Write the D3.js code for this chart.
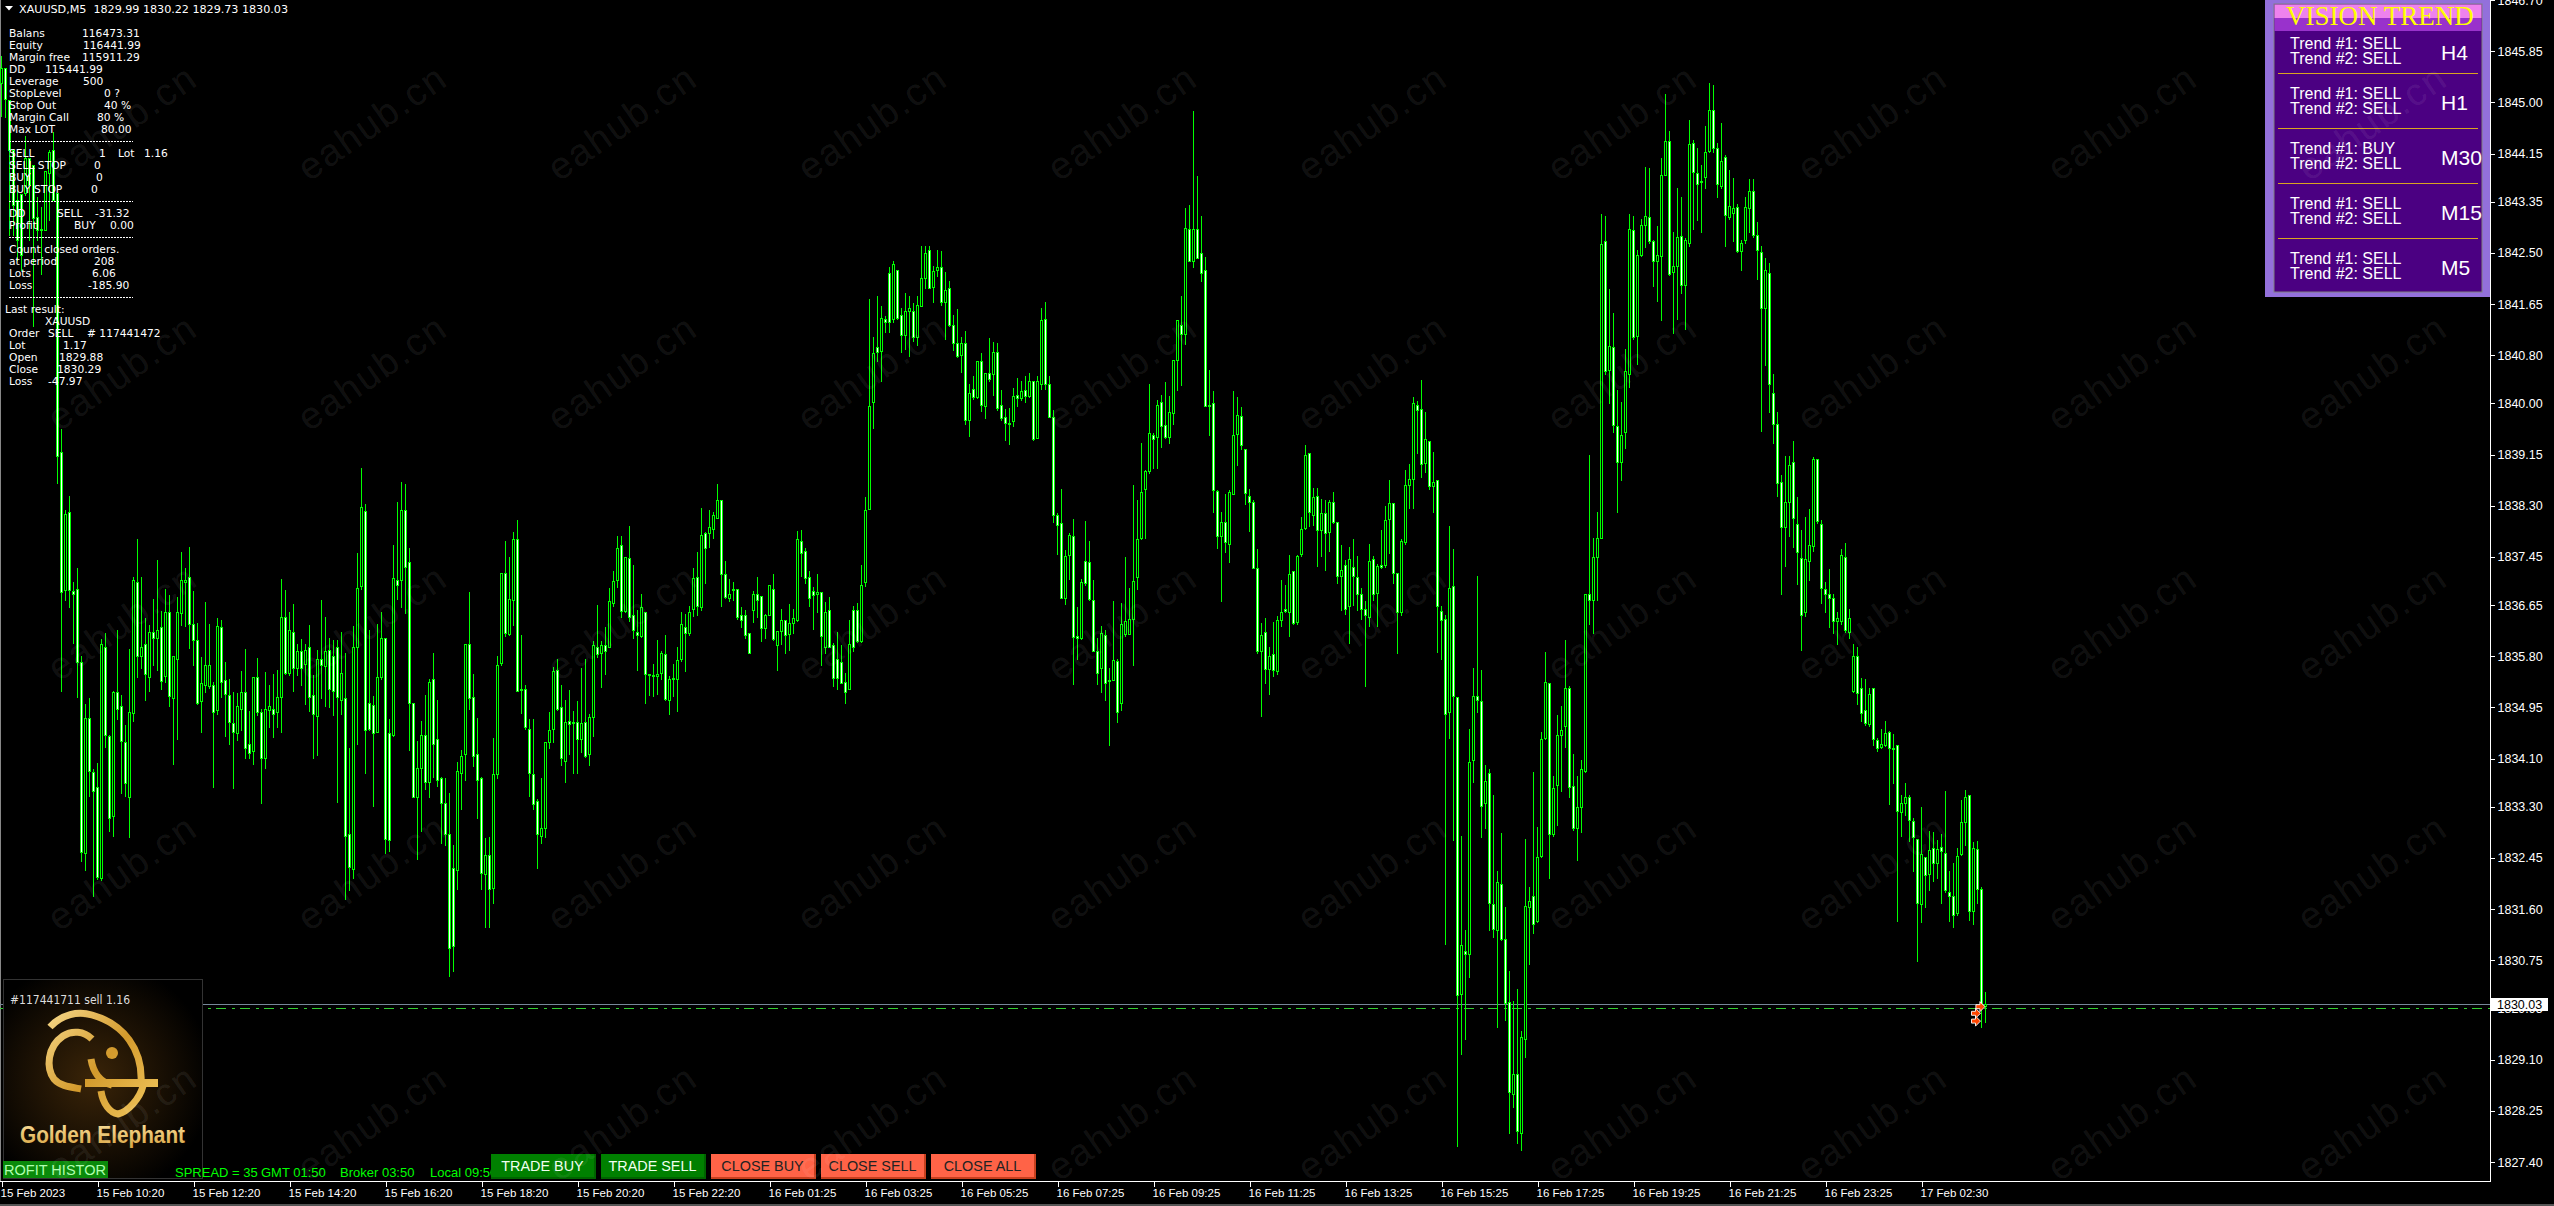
<!DOCTYPE html>
<html><head><meta charset="utf-8">
<script src="https://cdn.jsdelivr.net/npm/d3@7"></script>
<style>html,body{margin:0;padding:0;background:#000;overflow:hidden}svg{display:block}</style>
</head><body><div id="c"></div>
<script>
// Prices are stored as offsets from priceBase (XAUUSD M5, bars 5 minutes apart)
const priceBase = 1800;
const highs = [
45.77,45.57,45.04,44.21,43.54,43.48,44.44,44.08,43.96,43.43,
43.26,43.84,44.21,44.51,43.49,39.58,38.23,38.47,37.03,37.27,
35.80,35.01,35.10,33.92,34.02,36.08,36.19,34.49,35.22,36.24,
35.15,34.65,35.92,37.11,37.75,37.11,36.43,36.32,36.75,37.40,
36.56,36.92,36.81,35.81,36.78,37.53,37.27,37.62,36.89,36.35,
35.78,36.70,36.33,35.37,36.43,36.40,35.70,35.43,35.21,35.19,
35.56,35.92,34.89,35.46,35.77,34.92,35.54,35.33,35.51,35.57,
37.08,36.90,36.54,36.67,36.00,36.08,36.00,36.32,35.49,35.91,
36.73,36.45,36.10,36.07,36.07,36.21,35.86,34.28,36.30,37.52,
38.92,38.33,36.24,35.14,36.33,36.53,36.11,34.75,37.64,38.37,
38.69,38.66,37.59,35.03,34.40,34.72,35.15,35.43,35.86,35.08,
33.79,33.78,33.53,32.67,34.04,34.25,36.00,36.86,35.51,34.78,
33.79,32.78,32.79,34.45,35.81,37.19,37.72,37.45,37.87,38.06,
36.15,35.33,34.75,34.75,33.43,33.78,34.37,34.87,35.62,35.75,
35.32,35.07,35.24,34.89,35.05,35.60,35.75,34.84,36.05,36.65,
36.05,36.29,36.94,37.22,37.80,37.80,37.45,37.97,37.31,36.57,
36.84,36.54,35.51,35.67,36.07,35.89,36.16,35.48,35.67,35.95,
36.54,36.50,36.64,37.27,37.53,38.27,37.86,38.23,38.20,38.66,
38.39,37.38,37.08,37.03,36.92,36.61,36.57,36.19,36.89,37.11,
36.80,36.51,36.98,37.17,36.22,36.59,36.40,36.66,36.59,37.88,
37.90,37.59,37.22,36.95,37.17,36.87,36.70,36.79,36.02,36.21,
35.99,35.53,36.40,36.64,36.68,37.32,38.44,41.73,41.10,41.79,
41.62,41.45,42.27,42.37,42.22,41.59,41.83,41.79,41.67,41.78,
42.62,42.61,42.61,42.29,42.55,42.53,42.18,42.03,41.47,41.57,
41.10,41.21,40.33,40.46,40.70,40.84,40.51,41.08,41.02,41.00,
40.22,39.90,39.92,40.25,40.42,40.37,40.45,40.50,40.38,40.46,
41.59,41.68,40.46,39.89,38.18,38.58,37.57,37.85,38.08,36.61,
37.08,38.05,37.71,37.06,36.10,36.31,36.23,35.61,36.72,35.75,
36.69,37.45,36.93,38.64,38.39,39.35,38.90,40.32,39.51,40.05,
40.14,40.35,40.13,40.72,41.38,41.78,43.25,43.29,44.85,43.77,
43.11,42.43,40.55,40.20,38.56,38.19,38.50,38.56,40.20,40.11,
39.94,39.25,38.58,38.39,37.58,36.36,36.44,35.95,36.37,36.47,
37.07,36.99,37.49,37.22,37.48,38.11,39.31,39.17,38.60,38.60,
38.42,38.40,38.40,38.52,38.03,37.65,37.40,37.61,37.75,37.46,
36.94,36.72,37.67,37.47,37.33,37.90,38.30,38.73,38.35,37.18,
37.75,38.89,39.00,40.10,40.04,40.39,39.86,39.38,39.20,38.73,
36.63,36.48,37.96,37.58,35.13,32.82,31.25,34.59,35.60,37.13,
35.58,34.00,33.92,33.50,32.23,32.87,31.64,30.58,30.07,30.28,
29.58,32.77,31.97,33.87,32.97,34.55,35.87,35.36,33.81,34.83,
34.97,36.07,35.30,34.17,33.81,34.07,36.84,39.14,37.76,38.19,
43.14,43.12,41.90,41.50,40.22,40.02,40.91,43.15,43.12,42.54,
43.07,43.93,43.91,42.71,42.95,44.07,45.14,44.52,42.84,43.58,
43.42,42.74,44.70,44.37,44.24,43.96,44.60,45.32,45.29,44.32,
44.65,44.12,43.88,43.74,43.32,42.71,43.42,43.73,43.73,43.02,
42.61,42.42,42.33,40.48,39.85,38.81,39.13,39.13,39.38,38.45,
37.89,38.12,38.25,39.11,39.08,38.07,37.03,37.25,36.84,36.54,
37.58,37.68,36.59,36.00,35.95,35.44,35.42,35.27,35.27,34.45,
34.59,34.73,34.56,34.51,34.33,33.49,33.69,33.49,33.11,32.77,
33.29,32.47,32.90,32.88,32.75,32.85,33.56,32.24,32.37,32.62,
33.41,33.58,33.50,32.71,32.73,31.97,30.22];
const bodyTops = [
45.57,45.57,45.04,44.21,43.38,43.48,44.08,44.08,43.96,43.10,
42.90,43.86,44.18,44.21,43.49,39.20,38.16,38.19,36.89,36.91,
35.71,34.78,34.78,33.87,33.63,36.00,35.96,34.47,35.21,35.21,
34.97,34.38,34.88,37.06,37.03,35.96,36.01,36.21,36.21,36.24,
36.28,36.54,36.54,35.80,36.53,37.06,37.06,37.11,36.33,36.07,
35.35,35.65,35.66,35.32,36.31,36.29,35.40,35.16,34.69,34.97,
35.21,35.21,34.34,35.45,35.46,34.88,34.92,34.98,34.93,35.13,
36.45,36.45,36.23,36.21,35.89,35.89,35.91,35.96,35.16,35.76,
35.75,35.89,35.91,35.80,35.96,35.52,35.11,32.85,35.96,36.94,
38.28,38.22,35.03,34.99,35.45,36.11,36.10,34.53,37.10,37.07,
38.23,38.23,37.36,35.03,33.95,34.50,34.50,35.38,35.43,34.43,
33.78,33.37,32.84,32.28,33.90,34.14,36.00,36.01,35.12,34.18,
33.78,32.50,32.50,33.85,35.66,37.19,37.18,36.75,37.74,37.74,
35.26,35.26,34.60,33.85,33.39,32.94,34.37,34.58,35.55,35.58,
34.95,34.70,34.72,34.70,34.70,34.69,34.71,34.79,35.98,35.96,
35.99,35.99,36.71,37.05,37.59,37.64,37.45,37.44,36.48,36.21,
36.62,36.54,35.51,35.49,35.51,35.85,35.83,35.43,35.44,35.74,
36.33,36.29,36.54,37.10,37.12,37.81,37.85,37.94,38.14,38.39,
38.39,37.16,36.83,36.92,36.92,36.48,36.48,36.19,36.83,36.83,
36.80,36.48,36.98,36.92,36.22,36.40,36.40,36.35,36.43,37.74,
37.71,37.55,37.12,36.88,36.87,36.87,36.54,36.57,35.99,35.76,
35.71,35.38,36.01,36.57,36.57,36.98,38.23,39.96,40.84,40.94,
41.41,41.40,42.16,42.31,42.22,41.46,41.53,41.59,41.54,41.64,
42.09,42.49,42.54,42.20,42.27,42.27,41.89,41.91,41.31,41.01,
41.00,41.00,40.17,40.24,40.70,40.70,40.51,40.50,40.86,40.86,
39.98,39.77,39.68,40.13,40.14,40.21,40.23,40.38,40.38,40.37,
41.38,41.40,40.33,39.78,38.15,38.01,37.47,37.82,37.80,36.14,
37.03,37.39,37.36,36.74,35.89,36.19,36.16,35.41,35.74,35.72,
36.34,36.39,36.42,37.05,37.75,38.52,38.87,39.50,39.47,39.98,
40.02,39.64,39.85,40.72,41.38,41.31,42.92,42.90,42.89,42.89,
42.50,42.21,39.98,40.00,38.54,38.03,38.03,38.53,39.47,39.81,
39.79,39.25,38.47,38.37,37.26,36.16,36.21,35.81,35.84,36.40,
36.53,36.58,37.16,37.21,37.47,37.92,39.15,39.17,38.44,38.47,
38.18,38.18,38.36,38.37,38.03,37.23,37.31,37.41,37.28,37.11,
36.83,36.58,37.39,37.42,37.30,37.31,38.06,38.34,38.34,37.18,
37.71,38.64,38.75,40.00,39.97,39.90,39.41,39.37,38.70,38.72,
36.56,36.42,36.94,36.96,35.12,31.00,30.91,34.04,35.14,35.14,
35.06,33.72,33.86,31.69,32.05,32.02,31.10,30.05,28.86,28.86,
29.48,31.66,31.74,31.82,32.46,34.42,35.38,35.36,33.62,34.49,
34.58,35.28,35.28,33.64,33.30,33.92,36.84,36.84,37.45,37.76,
42.65,42.70,40.96,40.94,39.63,39.48,40.54,42.89,42.88,42.47,
42.96,43.11,43.09,42.69,42.46,43.79,44.35,44.35,42.28,42.77,
42.78,42.72,44.30,44.32,43.83,43.70,44.17,44.88,44.87,44.25,
44.03,44.09,43.28,43.24,43.27,42.67,43.26,43.52,43.52,42.80,
42.51,42.21,42.17,40.18,39.66,38.69,38.37,38.98,39.03,38.00,
37.43,37.42,37.64,39.08,39.07,38.00,36.91,36.84,36.77,36.43,
37.49,37.45,36.43,35.80,35.81,35.27,34.90,35.17,35.27,34.41,
34.35,34.53,34.54,34.27,34.32,33.37,33.46,33.47,33.07,32.76,
32.52,32.47,32.59,32.62,32.60,32.64,32.54,31.89,31.81,32.49,
33.04,33.47,33.49,32.61,32.60,31.93,30.03];
const bodyBottoms = [
45.32,45.06,44.21,43.29,42.71,42.46,43.49,43.63,43.08,42.88,
42.88,42.88,43.83,43.38,39.13,36.86,36.90,36.90,36.84,35.70,
32.55,32.54,33.89,33.57,32.13,32.12,34.49,33.12,33.14,34.93,
34.40,33.70,33.47,34.85,35.80,35.81,35.51,35.46,36.10,36.10,
35.39,35.48,35.14,35.10,35.76,36.52,37.04,36.34,36.07,35.02,
35.05,35.33,35.30,34.88,34.90,35.37,35.17,34.70,34.55,34.53,
34.93,34.28,34.20,34.22,34.88,34.11,34.11,34.90,34.84,34.87,
35.13,35.52,35.52,35.61,35.60,35.60,35.67,35.13,34.84,34.81,
35.65,35.63,35.25,35.23,35.13,35.07,32.81,32.30,32.27,35.96,
36.97,34.58,34.60,34.53,34.55,35.45,32.76,32.74,34.50,36.98,
37.06,37.29,35.03,33.47,33.46,33.95,33.71,33.71,34.35,33.74,
33.36,32.84,30.96,30.99,32.25,33.86,34.17,35.11,34.14,33.75,
32.20,32.19,31.94,31.95,33.85,35.68,36.19,36.17,36.74,35.23,
35.25,34.63,33.86,33.35,32.85,32.82,32.94,34.38,34.60,34.93,
34.11,34.06,34.68,34.69,34.43,34.43,34.14,34.17,34.79,35.84,
35.86,35.88,35.96,36.69,37.06,36.55,36.55,36.45,36.23,36.15,
36.14,35.51,35.50,35.47,35.47,35.52,35.09,35.08,35.42,35.43,
35.76,36.19,36.19,36.59,36.64,36.62,37.59,37.85,37.91,38.10,
37.16,36.79,36.77,36.92,36.46,36.40,36.16,35.86,36.57,36.74,
36.27,36.27,36.49,36.09,35.99,36.22,36.15,36.17,36.35,36.40,
37.52,37.10,36.77,36.82,36.84,36.14,35.96,35.96,35.44,35.44,
35.36,35.21,35.26,35.96,36.06,36.06,37.03,38.25,40.02,40.86,
40.87,41.36,41.35,41.40,41.41,41.14,41.14,41.54,41.10,41.11,
41.62,42.09,41.92,41.94,42.22,41.69,41.69,41.31,41.01,40.79,
40.81,39.73,39.73,40.11,40.11,39.98,39.96,40.41,40.48,39.93,
39.75,39.68,39.68,39.70,40.09,40.09,40.13,40.13,39.41,39.43,
40.33,40.33,39.78,38.15,37.98,36.77,36.77,37.48,36.12,36.10,
36.10,37.02,36.75,35.89,35.53,35.61,35.36,35.40,35.40,34.87,
35.02,36.17,36.17,36.42,37.11,37.76,38.57,38.87,39.41,39.44,
39.63,39.44,39.44,39.84,40.72,41.16,41.16,42.36,42.36,42.42,
42.17,39.96,39.97,38.56,37.79,37.79,37.69,37.66,38.49,39.49,
39.31,38.51,38.37,37.27,35.89,35.89,35.59,35.59,35.58,35.55,
36.40,36.55,36.54,36.36,36.37,37.50,37.93,38.19,38.14,37.89,
37.90,37.84,37.86,38.03,37.14,37.14,36.58,36.63,37.13,36.83,
36.59,36.48,36.45,36.84,36.85,37.28,37.31,38.08,37.19,36.54,
36.53,37.69,38.64,38.75,39.89,38.99,39.01,38.62,38.62,36.63,
36.40,34.84,34.88,35.14,30.17,30.19,30.85,30.86,34.07,35.08,
33.32,33.36,31.71,31.27,31.25,31.10,30.04,28.57,28.53,27.92,
27.88,29.45,31.64,31.35,31.40,32.48,34.45,32.84,32.84,33.67,
34.49,34.64,33.63,32.94,32.94,33.29,33.90,36.73,36.73,37.45,
37.76,40.54,40.56,39.64,39.02,39.03,39.52,40.49,41.11,41.12,
42.47,42.96,42.70,42.36,42.36,42.45,43.80,42.15,42.19,42.29,
41.96,41.97,42.66,43.84,43.64,43.67,43.76,44.19,44.25,43.64,
43.61,43.13,43.10,43.16,42.53,42.53,42.71,43.24,42.79,42.55,
41.59,41.58,40.32,39.66,38.68,37.94,37.94,38.37,38.09,37.53,
36.48,36.54,37.39,37.63,38.04,36.93,36.84,36.76,36.38,36.38,
36.39,36.23,36.21,35.22,35.19,34.86,34.69,34.68,34.43,34.27,
34.29,34.33,34.27,34.26,33.23,33.22,33.37,33.08,32.79,31.71,
31.68,32.17,32.19,32.36,32.36,32.56,31.91,31.81,31.50,31.54,
32.51,33.04,31.57,31.57,31.94,29.99,29.99];
const lows = [
44.77,44.76,42.80,42.80,42.38,42.22,43.46,42.71,41.29,42.71,
42.15,42.88,43.05,43.38,38.68,35.23,36.73,36.62,36.02,35.12,
32.40,32.25,33.48,31.82,32.10,32.09,34.30,32.90,32.82,34.76,
33.53,33.48,32.79,34.73,35.46,35.60,35.08,35.22,35.65,35.58,
35.26,35.37,34.98,34.01,34.43,36.32,36.31,35.94,35.65,35.00,
34.54,35.21,35.27,33.63,34.84,35.12,34.48,34.35,33.62,34.41,
34.57,34.11,34.11,34.01,34.82,33.36,33.95,34.63,34.46,34.63,
34.54,35.51,35.49,35.23,35.49,35.32,35.00,34.89,34.11,34.16,
35.11,34.98,34.95,34.82,33.38,34.84,31.77,31.92,32.12,34.35,
36.92,33.86,34.58,33.31,34.54,35.43,32.54,32.57,34.48,36.75,
36.61,36.52,34.25,33.46,32.44,32.89,33.60,33.46,33.80,33.65,
32.70,32.67,30.49,30.58,31.94,33.27,33.74,34.92,33.98,33.11,
31.93,31.31,31.31,31.70,33.78,35.66,36.13,36.16,36.32,35.22,
34.86,34.59,33.48,33.27,32.28,32.70,32.80,34.27,34.38,34.91,
34.00,33.71,34.18,33.86,33.86,34.21,34.13,34.00,34.48,35.79,
35.29,35.51,35.95,36.64,36.95,36.45,36.54,36.38,36.10,35.58,
36.12,35.03,35.16,35.14,35.18,35.43,35.08,34.84,35.14,34.89,
35.72,35.56,36.15,36.47,36.48,36.57,37.02,37.62,37.77,38.09,
36.64,36.77,36.71,36.73,36.42,36.29,36.11,35.86,36.37,36.45,
36.05,36.10,36.48,36.07,35.58,36.00,35.86,35.90,36.19,36.38,
37.14,37.01,36.64,36.26,36.53,35.65,35.85,35.95,35.31,35.25,
35.35,35.02,35.25,35.88,36.03,36.03,36.96,38.25,39.59,40.70,
40.38,41.19,41.19,41.35,41.40,40.86,40.91,40.79,41.03,40.97,
41.62,41.92,41.92,41.69,42.11,41.64,41.07,41.29,40.89,40.77,
40.52,39.65,39.46,40.08,40.09,39.88,39.76,40.38,40.14,39.89,
39.73,39.39,39.33,39.63,39.95,40.05,40.02,40.11,39.39,39.43,
40.24,40.24,39.77,38.03,37.50,36.77,36.67,37.09,35.34,35.75,
36.09,36.99,36.74,35.88,35.34,35.21,35.07,34.32,35.40,34.71,
34.91,36.14,36.17,35.65,36.91,37.75,37.76,38.84,38.93,38.92,
39.28,39.43,39.35,39.65,40.23,40.30,40.98,42.36,42.27,42.42,
42.03,39.96,39.47,38.19,37.60,36.71,37.53,37.36,38.49,38.98,
39.24,38.33,37.88,37.27,35.86,34.81,35.36,35.18,35.47,35.51,
36.31,36.53,36.14,36.33,36.34,37.47,37.91,37.97,37.98,37.30,
37.46,37.23,37.54,38.01,37.01,36.57,36.51,36.02,36.65,36.57,
36.42,35.31,36.31,36.74,36.30,37.26,37.29,37.52,37.02,35.86,
36.48,37.67,38.26,38.26,39.18,38.78,38.86,38.58,38.19,35.87,
35.75,31.02,34.45,32.75,27.67,29.19,29.45,30.48,33.71,34.87,
32.80,32.95,31.25,31.13,29.64,31.08,29.76,27.88,28.32,27.71,
27.60,29.14,30.69,31.20,31.38,32.46,34.43,32.12,32.82,33.00,
33.56,34.30,33.47,32.91,32.42,32.88,33.87,36.34,36.18,36.74,
37.76,40.49,40.00,39.52,38.19,38.73,39.26,40.27,41.07,40.66,
42.44,42.59,42.67,41.95,41.70,41.39,43.80,42.13,41.17,41.40,
41.83,41.24,42.62,42.90,43.05,42.84,43.58,44.17,44.17,43.43,
43.58,42.62,43.07,42.69,42.52,42.21,42.66,42.84,42.77,42.06,
39.54,40.64,39.85,39.34,38.47,36.84,37.30,37.79,37.61,37.00,
35.91,36.47,37.07,37.55,38.01,36.69,36.54,36.29,36.18,36.01,
36.34,36.21,36.10,35.20,35.01,34.73,34.66,34.64,34.32,34.22,
34.27,34.31,33.34,33.69,31.40,32.81,33.16,32.73,32.24,30.74,
31.38,31.63,31.91,32.06,32.11,31.71,31.89,31.40,31.30,31.50,
32.50,32.67,31.42,31.35,31.71,29.65,29.73];
// d = bar closed lower than it opened, u = bar closed higher
const barDirections = [
"uddddduddd","duuddduddd","duddduddud","dduudududu","duduuuuddd","uuududdddu","uddudduudu","ududududdu","dudddudduu","uddduuddud",
"uddduududd","dddduuuddd","duduuuduud","ddddduuuud","duddduduud","uduuududdd","uddduududu","uduududuuu","ddudddddud","duuduuduuu",
"ddddududdd","ddudduuuud","uddudduudu","uuduududdd","ududududud","dddudududu","uddddduudd","udddduddud","uuuuuuuudu","dduuududud",
"ddddduduuu","dddddududu","ududuuudud","ududdududd","ddududuudd","uuuuddudud","ddudduduud","duddudddud","uuuduuuduu","uudduuuduu",
"ududduuudu","uudduuuduu","duuddduudd","uduuduuudd","dudddduudd","duuudddddu","uduudddudd","uuddduuddd","udududdddu","uududdu"].join("");
const axisPrices = [1846.70,1845.85,1845.00,1844.15,1843.35,1842.50,1841.65,1840.80,1840.00,1839.15,1838.30,1837.45,1836.65,1835.80,1834.95,1834.10,1833.30,1832.45,1831.60,1830.75,1829.95,1829.10,1828.25,1827.40];
const timeLabels = ["15 Feb 2023","15 Feb 10:20","15 Feb 12:20","15 Feb 14:20","15 Feb 16:20","15 Feb 18:20","15 Feb 20:20","15 Feb 22:20","16 Feb 01:25","16 Feb 03:25","16 Feb 05:25","16 Feb 07:25","16 Feb 09:25","16 Feb 11:25","16 Feb 13:25","16 Feb 15:25","16 Feb 17:25","16 Feb 19:25","16 Feb 21:25","16 Feb 23:25","17 Feb 02:30"];
const barsPerTimeTick = 24;
const bidPrice = 1830.03;
const orderPrice = 1829.99;
const orderLabel = "#117441711 sell 1.16";
const arrowBars = [494.6,493.5,493.5];
const arrowPrices = [1829.98,1829.87,1829.74];
const headerText = "XAUUSD,M5  1829.99 1830.22 1829.73 1830.03";
const infoLabels = ["Balans","Equity","Margin free","DD","Leverage","StopLevel","Stop Out","Margin Call","Max LOT","","SELL","SELL STOP","BUY","BUY STOP","","DD","Profit","","Count closed orders.","at period","Lots","Loss","","Last result:","","Order","Lot","Open","Close","Loss"];
const infoValues = ["116473.31","116441.99","115911.29","115441.99","500","0 ?","40 %","80 %","80.00","","1","0","0","0","","-31.32","0.00","","","208","6.06","-185.90","","","XAUUSD","# 117441472","1.17","1829.88","1830.29","-47.97"];
const infoValueX = [82,83,82,45,83,104,104,97,101,0,99,94,96,91,0,95,110,0,0,94,92,88,0,0,45,87,63,59,57,48];
const trendTimeframes = ["H4","H1","M30","M15","M5"];
const trend1 = ["SELL","SELL","BUY","SELL","SELL"];
const trend2 = ["SELL","SELL","SELL","SELL","SELL"];

const W=2554,H=1206,axisX=2490,axisY=1181;
const UI='"DejaVu Sans",sans-serif', ARIAL='"Liberation Sans",Arial,sans-serif';
const svg=d3.select("#c").append("svg").attr("width",W).attr("height",H).style("background","#000");

const n=highs.length;
const x=d3.scaleLinear().domain([0,496]).range([1.5,1985.5]);
const y=d3.scaleLinear().domain([1827.40,1846.70]).range([1162,0]);
const py=v=>Math.round(y(v+priceBase));

// frame
const frame=svg.append("g").attr("shape-rendering","crispEdges");
frame.append("rect").attr("x",0).attr("y",0).attr("width",1).attr("height",axisY).attr("fill","#888");
frame.append("rect").attr("x",0).attr("y",1204).attr("width",W).attr("height",2).attr("fill","#555");

// Order / bid lines sit under the candles
const lines=svg.append("g").attr("shape-rendering","crispEdges");
lines.append("line").attr("x1",0).attr("x2",axisX).attr("y1",Math.round(y(bidPrice))+.5).attr("y2",Math.round(y(bidPrice))+.5).attr("stroke","#778899");
lines.append("line").attr("x1",0).attr("x2",axisX).attr("y1",Math.round(y(orderPrice))+2.5).attr("y2",Math.round(y(orderPrice))+2.5).attr("stroke","#32CD32").attr("stroke-dasharray","10,6,3,5");

// candles
const bars=d3.range(n);
const candles=svg.append("g").attr("shape-rendering","crispEdges");
candles.selectAll("line.w").data(bars).join("line").attr("class","w")
  .attr("x1",i=>x(i)).attr("x2",i=>x(i)).attr("y1",i=>py(highs[i])).attr("y2",i=>py(lows[i])+1).attr("stroke","#00FF00");
candles.selectAll("rect.b").data(bars).join("rect").attr("class","b")
  .attr("x",i=>x(i)-1).attr("width",2)
  .attr("y",i=>py(bodyTops[i])+.5).attr("height",i=>Math.max(1,py(bodyBottoms[i])-py(bodyTops[i])))
  .attr("fill",i=>barDirections[i]==="d"?"#fff":"#000").attr("stroke","#00FF00");

// trade arrows
svg.append("g").selectAll("path").data(arrowBars).join("path")
  .attr("transform",(b,i)=>`translate(${x(b)},${y(arrowPrices[i])})`)
  .attr("d","M-4,-2H0V-5L5,0L0,5V2H-4Z").attr("fill","#FF4500").attr("stroke","#fff").attr("stroke-width",.9);

// axes
const fmtTime=i=>timeLabels[i/barsPerTimeTick];
const xAxis=d3.axisBottom(x).tickValues(timeLabels.map((_,i)=>i*barsPerTimeTick)).tickFormat(fmtTime).tickSize(5).tickSizeOuter(0);
const gx=svg.append("g").attr("transform",`translate(0,${axisY+.5})`).call(xAxis);
gx.select(".domain").remove();
gx.selectAll("line").attr("stroke","#fff").attr("shape-rendering","crispEdges");
gx.selectAll("text").attr("text-anchor","start").attr("x",-1.5).attr("y",7).attr("dy","0.71em").attr("fill","#fff").style("font",`11.5px ${ARIAL}`);
const yAxis=d3.axisRight(y).tickValues(axisPrices).tickFormat(d3.format(".2f")).tickSize(4).tickPadding(3).tickSizeOuter(0);
const gy=svg.append("g").attr("transform",`translate(${axisX+.5},0)`).call(yAxis);
gy.select(".domain").remove();
gy.selectAll("line").attr("stroke","#fff").attr("shape-rendering","crispEdges");
gy.selectAll("text").attr("fill","#fff").style("font",`12.5px ${ARIAL}`);
frame.append("rect").attr("x",0).attr("y",axisY).attr("width",axisX+1).attr("height",1).attr("fill","#fff");
svg.append("rect").attr("x",axisX).attr("y",0).attr("width",1).attr("height",axisY+1).attr("fill","#fff").attr("shape-rendering","crispEdges");

// current price tag
svg.append("rect").attr("x",axisX+1).attr("y",998).attr("width",57).attr("height",13).attr("fill","#fff");
svg.append("text").attr("x",axisX+7).attr("y",y(bidPrice)+5).attr("fill","#000").style("font",`12.5px ${ARIAL}`).text(d3.format(".2f")(bidPrice));

// header and account info
svg.append("path").attr("d","M5,6H13L9,10.5Z").attr("fill","#fff");
svg.append("text").attr("x",19).attr("y",12.5).attr("fill","#fff").attr("xml:space","preserve").style("white-space","pre").style("font",`11.2px ${UI}`).attr("textLength",269).text(headerText);
const info=svg.append("g").attr("fill","#fff").style("font",`10.7px ${UI}`);
const infoY=i=>36.5+12*i;
infoLabels.forEach((s,i)=>{
  if(s) info.append("text").attr("x",s==="Last result:"?5:9).attr("y",infoY(i)).text(s);
  if(infoValues[i]) info.append("text").attr("x",infoValueX[i]).attr("y",infoY(i)).text(infoValues[i]);
});
[["SELL",57,15],["BUY",74,16],["SELL",48,25]].forEach(([s,xx,r])=>info.append("text").attr("x",xx).attr("y",infoY(r)).text(s));
[["Lot",118,10],["1.16",144,10]].forEach(([s,xx,r])=>info.append("text").attr("x",xx).attr("y",infoY(r)).text(s));
[9,14,17,22].forEach(r=>info.append("line").attr("x1",9).attr("x2",133).attr("y1",infoY(r)-3.5).attr("y2",infoY(r)-3.5).attr("stroke","#fff").attr("stroke-dasharray","2,1").attr("shape-rendering","crispEdges"));

// VISION TREND panel
const p=svg.append("g");
p.append("rect").attr("x",2265).attr("y",0).attr("width",225).attr("height",297).attr("fill","#9370DB");
p.append("rect").attr("x",2274).attr("y",4).attr("width",208).attr("height",288).attr("fill","#4B0082").attr("stroke","#808080");
p.append("rect").attr("x",2274.5).attr("y",4.5).attr("width",207).attr("height",13.5).attr("fill","#EE82EE");
p.append("rect").attr("x",2274.5).attr("y",18).attr("width",207).attr("height",13).attr("fill","#9932CC");
p.append("text").attr("x",2286).attr("y",25).attr("fill","#FFFF00").style("font",'27px "Liberation Serif",serif').text("VISION TREND");
const rowBase=[49,99,154,209,264], tfBase=[60,110,165,220,275], sepY=[73,128,183,238];
trendTimeframes.forEach((tf,i)=>{
  p.append("text").attr("x",2290).attr("y",rowBase[i]).attr("fill","#fff").style("font",`16px ${ARIAL}`).text("Trend #1: "+trend1[i]);
  p.append("text").attr("x",2290).attr("y",rowBase[i]+15).attr("fill","#fff").style("font",`16px ${ARIAL}`).text("Trend #2: "+trend2[i]);
  p.append("text").attr("x",2441).attr("y",tfBase[i]).attr("fill","#fff").style("font",`21px ${ARIAL}`).text(tf);
  if(i<4) p.append("line").attr("x1",2278).attr("x2",2478).attr("y1",sepY[i]+.5).attr("y2",sepY[i]+.5).attr("stroke","#DAA520").attr("shape-rendering","crispEdges");
});

// Golden Elephant logo
const defs=svg.append("defs");
const glow=defs.append("radialGradient").attr("id","glow").attr("cx","45%").attr("cy","50%").attr("r","60%");
glow.append("stop").attr("offset","0").attr("stop-color","#3a2408");
glow.append("stop").attr("offset","1").attr("stop-color","#000");
const gold=defs.append("linearGradient").attr("id","gold").attr("gradientUnits","userSpaceOnUse").attr("x1",45).attr("y1",1012).attr("x2",158).attr("y2",1115);
gold.append("stop").attr("offset","0").attr("stop-color","#f7d98a");
gold.append("stop").attr("offset",".5").attr("stop-color","#d39a2c");
gold.append("stop").attr("offset","1").attr("stop-color","#f2c860");
const goldTxt=defs.append("linearGradient").attr("id","goldT").attr("x1","0").attr("x2","0").attr("y1","0").attr("y2","1");
goldTxt.append("stop").attr("offset","0").attr("stop-color","#fbe3a2");
goldTxt.append("stop").attr("offset","1").attr("stop-color","#d9a441");
const logo=svg.append("g");
logo.append("rect").attr("x",3.5).attr("y",979.5).attr("width",199).attr("height",199).attr("fill","url(#glow)").attr("stroke","#333");
const goldStroke=(d,w)=>logo.append("path").attr("d",d).attr("fill","none").attr("stroke","url(#gold)").attr("stroke-width",w);
goldStroke("M50,1027C62,1014 78,1011 92,1015C124,1024 143,1050 141,1083",7);
goldStroke("M92,1039C84,1031 72,1030 63,1036C47,1047 46,1068 54,1079C60,1086 70,1087 81,1089",7);
goldStroke("M91,1059C93,1072 100,1082 112,1085",7);
goldStroke("M101,1091C103,1104 110,1113 118,1114C128,1112 140,1098 143,1086",7);
goldStroke("M85,1083H158",8);
logo.append("circle").attr("cx",112).attr("cy",1053).attr("r",6).attr("fill","url(#gold)");
logo.append("text").attr("x",20).attr("y",1143).attr("fill","url(#goldT)").attr("lengthAdjust","spacingAndGlyphs").attr("textLength",165).style("font",`bold 24px ${ARIAL}`).text("Golden Elephant");

// order label
svg.append("text").attr("x",10).attr("y",1004).attr("fill","#ddd").style("font",`12px ${UI}`).attr("lengthAdjust","spacingAndGlyphs").attr("textLength",120).text(orderLabel);

// status strip
const status=svg.append("g").attr("fill","#00FF00").style("font",`13px ${ARIAL}`);
[["SPREAD = 35",175],["GMT 01:50",261],["Broker 03:50",340],["Local 09:50",430]].forEach(([s,xx])=>status.append("text").attr("x",xx).attr("y",1176.5).text(s));

// buttons
svg.append("rect").attr("x",3).attr("y",1161).attr("width",105).attr("height",17).attr("fill","#0A8A0A");
svg.append("text").attr("x",4).attr("y",1175).attr("fill","#B0FFB0").attr("textLength",102).attr("lengthAdjust","spacingAndGlyphs").style("font",`15px ${ARIAL}`).text("ROFIT HISTOR");
const btn=(x0,w,label,fill,dark,txt)=>{
  svg.append("rect").attr("x",x0).attr("y",1154).attr("width",w).attr("height",25).attr("fill",dark);
  svg.append("rect").attr("x",x0).attr("y",1154).attr("width",w-2).attr("height",23).attr("fill",fill);
  svg.append("text").attr("x",x0+w/2-1).attr("y",1171).attr("text-anchor","middle").attr("fill",txt).style("font",`14.4px ${ARIAL}`).text(label);
};
btn(491,105,"TRADE BUY","#008000","#006400","#F0FFF0");
btn(601,105,"TRADE SELL","#008000","#006400","#F0FFF0");
btn(711,105,"CLOSE BUY","#FF6347","#C8401F","#222");
btn(821,105,"CLOSE SELL","#FF6347","#C8401F","#222");
btn(931,105,"CLOSE ALL","#FF6347","#C8401F","#222");

// watermark
const wmX=d3.range(10).map(i=>122+250*i), wmY=d3.range(5).map(i=>122+250*i);
const wm=svg.append("g").attr("fill","#fff").attr("fill-opacity",.085).style("font",`38px ${ARIAL}`).style("letter-spacing","2px");
wmY.forEach(yy=>wmX.forEach(xx=>wm.append("text").attr("transform",`translate(${xx},${yy}) rotate(-35)`).attr("text-anchor","middle").attr("dy","0.35em").text("eahub.cn")));
</script></body></html>
